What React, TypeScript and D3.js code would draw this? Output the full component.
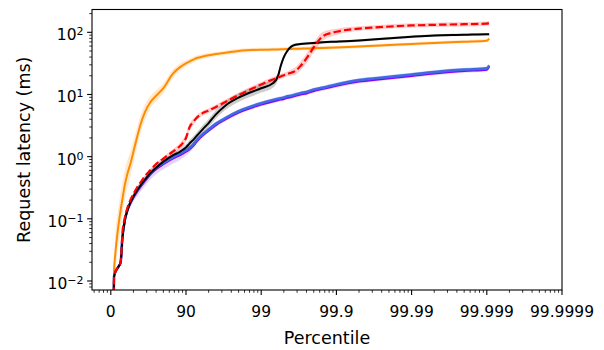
import React from "react";
import * as d3 from "d3";

// Percentile grid shared by all series
const percentiles = [
  8.5, 9.5, 12, 20, 26, 30, 35, 40, 45, 50,
  55, 60, 65, 70, 75, 80, 85, 88, 89, 90,
  91, 92, 93, 94, 95, 96, 97, 98, 99, 99.3,
  99.4, 99.45, 99.5, 99.55, 99.6, 99.65, 99.7, 99.75, 99.8, 99.85,
  99.9, 99.95, 99.97, 99.99, 99.995, 99.998, 99.999, 99.99907,
];

// Latency (ms) per series
const purpleLatency = [
  0.004, 0.0118, 0.0135, 0.0166, 0.02, 0.0501, 0.0955, 0.138, 0.175, 0.218,
  0.268, 0.33, 0.406, 0.51, 0.628, 0.754, 0.928, 1.06, 1.12, 1.2,
  1.31, 1.5, 1.81, 2.18, 2.61, 3.22, 3.96, 5.1, 6.88, 7.72,
  8.08, 8.27, 8.46, 8.86, 9.07, 9.5, 9.98, 10.4, 11.4, 12.3,
  13.8, 16.1, 17.3, 19.9, 21.8, 23.9, 25.0, 28.0,
];
const blueLatency = [
  0.004, 0.0118, 0.0135, 0.0166, 0.02, 0.0501, 0.0955, 0.138, 0.182, 0.229,
  0.282, 0.347, 0.427, 0.537, 0.661, 0.794, 0.977, 1.12, 1.18, 1.26,
  1.38, 1.58, 1.91, 2.29, 2.75, 3.39, 4.17, 5.37, 7.24, 8.13,
  8.51, 8.71, 8.91, 9.33, 9.55, 10.0, 10.5, 11.0, 12.0, 12.9,
  14.5, 17.0, 18.2, 20.9, 22.9, 25.1, 26.3, 29.5,
];
const orangeLatency = [
  0.004, 0.0151, 0.024, 0.0708, 0.138, 0.209, 0.355, 0.537, 0.759, 1.2,
  2.0, 3.39, 5.25, 7.41, 9.55, 12.6, 21.4, 27.5, 29.5, 31.6,
  33.9, 36.3, 38.9, 40.7, 42.7, 44.7, 46.8, 50.1, 52.5, 52.8,
  53.1, 53.3, 53.6, 53.8, 54.1, 54.3, 54.6, 55.0, 55.3, 56.0,
  56.9, 58.9, 61.0, 64.6, 67.6, 70.8, 73.3, 79.4,
];
const blackLatency = [
  0.004, 0.0118, 0.0135, 0.0166, 0.02, 0.0501, 0.0955, 0.138, 0.182, 0.229,
  0.282, 0.347, 0.427, 0.537, 0.661, 0.832, 1.05, 1.2, 1.29, 1.41,
  1.62, 1.86, 2.24, 2.75, 3.47, 4.79, 6.61, 8.91, 12.6, 15.1,
  19.5, 28.8, 39.8, 50.1, 58.9, 63.1, 64.6, 66.1, 67.6, 69.2,
  70.8, 74.1, 77.6, 85.1, 89.1, 91.2, 93.3, 93.3,
];
const redLatency = [
  0.004, 0.0118, 0.0135, 0.0166, 0.02, 0.0603, 0.105, 0.151, 0.2, 0.251,
  0.316, 0.389, 0.49, 0.603, 0.759, 0.933, 1.2, 1.48, 1.66, 2.0,
  2.95, 3.63, 4.37, 5.01, 5.5, 6.31, 7.59, 9.77, 14.5, 17.4,
  18.6, 19.5, 20.4, 21.4, 22.4, 24.0, 28.8, 38.0, 57.5, 87.1,
  102, 115, 120, 129, 132, 135, 138, 141,
];

// Band half-widths (decades) per series
const purpleSpread = [
  0, 0.03, 0.03, 0.03, 0.03, 0.03, 0.03, 0.03, 0.05, 0.06,
  0.07, 0.08, 0.08, 0.08, 0.08, 0.08, 0.08, 0.08, 0.07, 0.06,
  0.05, 0.04, 0.03, 0.03, 0.03, 0.03, 0.03, 0.03, 0.03, 0.03,
  0.03, 0.03, 0.03, 0.03, 0.03, 0.03, 0.03, 0.03, 0.03, 0.03,
  0.03, 0.03, 0.03, 0.03, 0.03, 0.03, 0.03, 0.03,
];
const blueSpread = [
  0, 0.03, 0.03, 0.03, 0.03, 0.03, 0.03, 0.03, 0.03, 0.03,
  0.03, 0.03, 0.03, 0.03, 0.03, 0.03, 0.03, 0.03, 0.03, 0.03,
  0.03, 0.03, 0.03, 0.03, 0.03, 0.03, 0.03, 0.03, 0.03, 0.03,
  0.03, 0.03, 0.03, 0.03, 0.03, 0.03, 0.03, 0.03, 0.03, 0.03,
  0.03, 0.03, 0.03, 0.03, 0.03, 0.03, 0.03, 0.03,
];
const orangeSpread = [
  0, 0.1, 0.25, 0.3, 0.28, 0.26, 0.24, 0.22, 0.2, 0.18,
  0.16, 0.14, 0.12, 0.1, 0.09, 0.08, 0.07, 0.06, 0.055, 0.05,
  0.045, 0.045, 0.04, 0.04, 0.04, 0.035, 0.035, 0.035, 0.03, 0.03,
  0.03, 0.03, 0.03, 0.03, 0.03, 0.03, 0.03, 0.03, 0.03, 0.03,
  0.025, 0.025, 0.025, 0.025, 0.025, 0.025, 0.025, 0.025,
];
const blackSpread = [
  0, 0.02, 0.02, 0.02, 0.02, 0.02, 0.02, 0.02, 0.02, 0.02,
  0.02, 0.02, 0.02, 0.02, 0.02, 0.03, 0.035, 0.04, 0.045, 0.05,
  0.055, 0.06, 0.06, 0.065, 0.065, 0.07, 0.07, 0.07, 0.07, 0.07,
  0.06, 0.05, 0.04, 0.025, 0.025, 0.025, 0.02, 0.02, 0.02, 0.02,
  0.02, 0.02, 0.02, 0.02, 0.02, 0.02, 0.02, 0.02,
];
const redSpread = [
  0, 0.02, 0.02, 0.02, 0.02, 0.02, 0.02, 0.02, 0.02, 0.02,
  0.02, 0.02, 0.02, 0.02, 0.02, 0.03, 0.04, 0.05, 0.06, 0.06,
  0.06, 0.05, 0.04, 0.04, 0.04, 0.04, 0.04, 0.04, 0.04, 0.04,
  0.04, 0.04, 0.04, 0.04, 0.05, 0.06, 0.07, 0.08, 0.08, 0.07,
  0.05, 0.035, 0.035, 0.035, 0.035, 0.035, 0.035, 0.035,
];

const xTickPercentiles = [0, 90, 99, 99.9, 99.99, 99.999, 99.9999];
const xTickLabels = ["0", "90", "99", "99.9", "99.99", "99.999", "99.9999"];
const yTickExponents = [-2, -1, 0, 1, 2];

const FONT = "'DejaVu Sans', sans-serif";
const L = 92, R = 562, T = 9.5, B = 290;

const toReturn = (p: number) => 1 / (1 - p / 100);

export default function App() {
  const x = d3.scaleLog().domain([Math.pow(10, -0.25), 1e6]).range([L, R]);
  const y = d3.scaleLog().domain([Math.pow(10, -2.145), Math.pow(10, 2.367)]).range([B, T]);

  const series = [
    { v: purpleLatency, s: purpleSpread, color: "#8000ff", band: "rgba(128,0,255,0.18)", w: 2, dash: undefined as string | undefined },
    { v: blueLatency, s: blueSpread, color: "#4169e1", band: "rgba(65,105,225,0.25)", w: 2.6, dash: undefined },
    { v: orangeLatency, s: orangeSpread, color: "#ff8c00", band: "rgba(255,140,0,0.2)", w: 2, dash: undefined },
    { v: blackLatency, s: blackSpread, color: "#000000", band: "rgba(0,0,0,0.2)", w: 2, dash: undefined },
    { v: redLatency, s: redSpread, color: "#ff0000", band: "rgba(255,0,0,0.2)", w: 2.2, dash: "7.4,3.2" },
  ];

  type Pt = { p: number; v: number; s: number };
  const line = d3
    .line<Pt>()
    .x((d) => x(toReturn(d.p)))
    .y((d) => y(d.v))
    .curve(d3.curveMonotoneX);
  const area = d3
    .area<Pt>()
    .x((d) => x(toReturn(d.p)))
    .y0((d) => y(d.v * Math.pow(10, -d.s)))
    .y1((d) => y(d.v * Math.pow(10, d.s)))
    .curve(d3.curveMonotoneX);

  const isPow10 = (t: number) => Math.abs(Math.log10(t) - Math.round(Math.log10(t))) < 1e-6;
  const [x0, x1] = x.domain();
  const xMinor = x.ticks().filter((t) => !isPow10(t) && t >= x0 && t <= x1);
  const [y0, y1] = y.domain();
  const yMinor = y.ticks().filter((t) => !isPow10(t) && t >= y0 && t <= y1);

  return (
    <div style={{ position: "absolute", left: 0, top: 0 }}>
      <svg width={604} height={350} style={{ display: "block", background: "#fff" }} fontFamily={FONT}>
        <defs>
          <clipPath id="plot">
            <rect x={L} y={T} width={R - L} height={B - T} />
          </clipPath>
        </defs>
        <g clipPath="url(#plot)">
          {series.map((sr, i) => {
            const pts: Pt[] = percentiles.map((p, j) => ({ p, v: sr.v[j], s: sr.s[j] }));
            return <path key={"b" + i} d={area(pts.slice(1)) || ""} fill={sr.band} stroke="none" />;
          })}
          {series.map((sr, i) => {
            const pts: Pt[] = percentiles.map((p, j) => ({ p, v: sr.v[j], s: sr.s[j] }));
            return (
              <path
                key={"l" + i}
                d={line(pts) || ""}
                fill="none"
                stroke={sr.color}
                strokeWidth={sr.w}
                strokeDasharray={sr.dash}
                strokeLinejoin="round"
              />
            );
          })}
        </g>
        <rect x={L} y={T} width={R - L} height={B - T} fill="none" stroke="#000" strokeWidth={1.1} />
        {/* x ticks */}
        {xMinor.map((t, i) => (
          <line key={"xm" + i} x1={x(t)} x2={x(t)} y1={B} y2={B + 2.8} stroke="#000" strokeWidth={0.8} />
        ))}
        {xTickPercentiles.map((p, i) => {
          const px = x(toReturn(p));
          return (
            <g key={"xt" + i}>
              <line x1={px} x2={px} y1={B} y2={B + 4.9} stroke="#000" strokeWidth={1.1} />
              <text x={px} y={316.5} textAnchor="middle" fontSize={15.5} fill="#000">
                {xTickLabels[i]}
              </text>
            </g>
          );
        })}
        {/* y ticks */}
        {yMinor.map((t, i) => (
          <line key={"ym" + i} x1={L - 2.8} x2={L} y1={y(t)} y2={y(t)} stroke="#000" strokeWidth={0.8} />
        ))}
        {yTickExponents.map((e, i) => {
          const py = y(Math.pow(10, e));
          return (
            <g key={"yt" + i}>
              <line x1={L - 4.9} x2={L} y1={py} y2={py} stroke="#000" strokeWidth={1.1} />
              <text x={83.5} y={py + 8} textAnchor="end" fontSize={15.5} fill="#000">
                10
                <tspan dy={-5} fontSize={11}>
                  {e < 0 ? "\u2212" + -e : String(e)}
                </tspan>
              </text>
            </g>
          );
        })}
        <text x={(L + R) / 2} y={344} textAnchor="middle" fontSize={17.5} fill="#000">
          Percentile
        </text>
        <text transform={`translate(30, ${(T + B) / 2}) rotate(-90)`} textAnchor="middle" fontSize={17.5} fill="#000">
          Request latency (ms)
        </text>
      </svg>
    </div>
  );
}
